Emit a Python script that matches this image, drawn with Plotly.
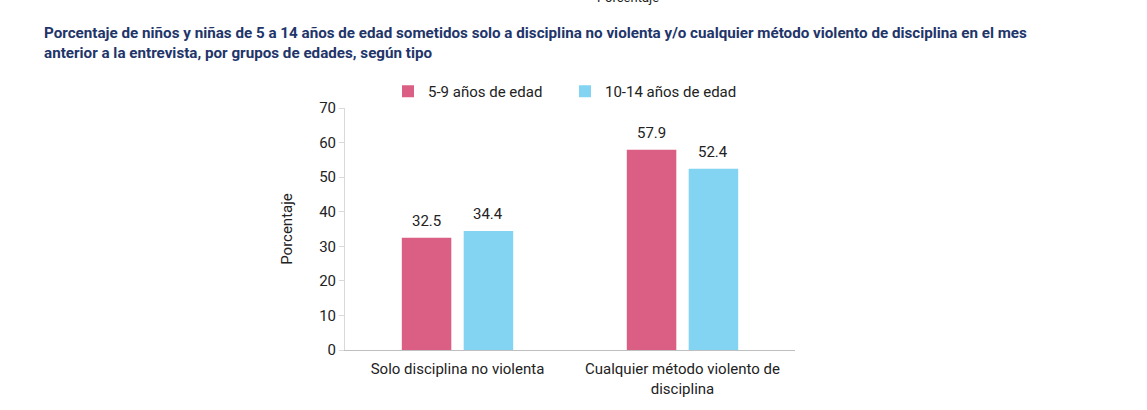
import plotly.graph_objects as go

categories = ["Solo disciplina no violenta", "Cualquier método violento de<br>disciplina"]
series_names = ["5-9 años de edad", "10-14 años de edad"]
values_5_9 = [32.5, 57.9]
values_10_14 = [34.4, 52.4]
colors = ["#DB5F84", "#83D4F3"]
title_text = ("<b>Porcentaje de niños y niñas de 5 a 14 años de edad sometidos solo a disciplina no violenta y/o cualquier método violento de disciplina en el mes<br>"
              "anterior a la entrevista, por grupos de edades, según tipo</b>")

BARGAP = 0.45
FS = 15
fig = go.Figure()
for name, vals, col in zip(series_names, [values_5_9, values_10_14], colors):
    fig.add_trace(go.Bar(
        x=categories, y=vals, name=name, marker_color=col,
        marker_line_width=0,
    ))

# value labels placed above each bar
slot = (1 - BARGAP) / 2
for k, vals in enumerate([values_5_9, values_10_14]):
    off = (k - 0.5) * slot
    for i, v in enumerate(vals):
        fig.add_annotation(x=i + off, y=v, xref="x", yref="y", text=f"{v:.1f}",
                           showarrow=False, yanchor="middle", yshift=17,
                           font=dict(family="Roboto", size=FS, color="#222222"))

fig.update_layout(
    width=1147, height=410,
    margin=dict(l=345, r=352, t=108, b=60),
    paper_bgcolor="white", plot_bgcolor="white",
    barmode="group", bargap=BARGAP, bargroupgap=0.2,
    font=dict(family="Roboto", size=FS, color="#222222"),
    showlegend=True,
    legend=dict(orientation="h", x=(388 - 345) / 450, y=1.0, xanchor="left", yanchor="bottom",
                font=dict(family="Roboto", size=FS, color="#222222"),
                entrywidth=132, entrywidthmode="pixels", traceorder="normal"),
    yaxis=dict(range=[0, 70], dtick=10, showgrid=False, zeroline=False,
               showline=True, linecolor="#D9D9D9", linewidth=1,
               ticks="outside", ticklen=5, tickcolor="#D9D9D9",
               tickfont=dict(family="Roboto", size=FS, color="#222222"),
               title=dict(text="Porcentaje", font=dict(family="Roboto", size=FS, color="#222222"), standoff=22)),
    xaxis=dict(showline=True, linecolor="#BFBFBF", linewidth=1, showgrid=False,
               ticks="", ticklabelstandoff=5,
               tickfont=dict(family="Roboto", size=FS, color="#222222")),
)

fig.add_annotation(text=title_text, xref="paper", yref="paper", x=(42 - 345) / 450, y=1 + (108 - 22) / 242,
                   xanchor="left", yanchor="top", showarrow=False, align="left",
                   font=dict(family="Roboto", size=15.2, color="#22356A"))
fig.add_annotation(text="Porcentaje", xref="paper", yref="paper", x=(628 - 345) / 450, y=1 + (108 + 2) / 242,
                   xanchor="center", yanchor="middle", showarrow=False,
                   font=dict(family="Roboto", size=13, color="#222222"))

fig.write_html("out.html")
